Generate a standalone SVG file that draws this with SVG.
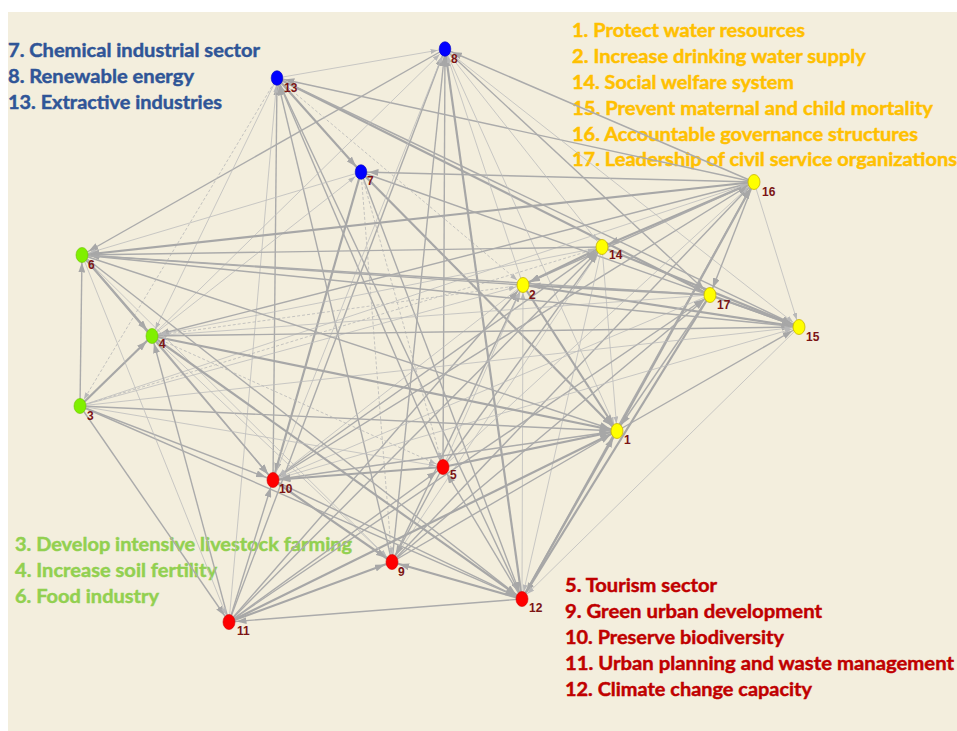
<svg xmlns="http://www.w3.org/2000/svg" width="957" height="731" viewBox="0 0 957 731">
  <style>
    .bg{fill:#f3eedd}
    .lg{font-family:Lato,"Open Sans","Liberation Sans",sans-serif;font-weight:700;font-size:19px;stroke-width:0.45px}
    .blue{fill:#2f5597;stroke:#2f5597}
    .yel{fill:#ffc000;stroke:#ffc000}
    .grn{fill:#92d050;stroke:#92d050}
    .red{fill:#c00000;stroke:#c00000}
    .e1{stroke:#a7a7a7;stroke-width:2.2;fill:none;marker-end:url(#mA)}
    .e2{stroke:#ababab;stroke-width:1.4;fill:none;marker-end:url(#mA)}
    .e3{stroke:#bcbcbc;stroke-width:0.8;fill:none;marker-end:url(#mB)}
    .e4{stroke:#b8b8b8;stroke-width:0.8;stroke-dasharray:3 2;fill:none;marker-end:url(#mB)}
    .nl{font-family:"Liberation Sans",Arial,sans-serif;font-weight:700;font-size:12px;fill:#7b1414}
    .nb{fill:#0000ff;stroke:#0000c0;stroke-width:0.6}
    .ny{fill:#ffff00;stroke:#c8b400;stroke-width:0.8}
    .ng{fill:#80f000;stroke:#6cc000;stroke-width:0.6}
    .nr{fill:#ff0000;stroke:#d00000;stroke-width:0.6}
  </style>
  <defs>
    <marker id="mA" viewBox="0 0 10 7" markerWidth="10" markerHeight="7" refX="17.5" refY="3.5" orient="auto" markerUnits="userSpaceOnUse">
      <path d="M0,0 L10,3.5 L0,7 z" fill="#a7a7a7"/>
    </marker>
    <marker id="mB" viewBox="0 0 7 5" markerWidth="7" markerHeight="5" refX="14.5" refY="2.5" orient="auto" markerUnits="userSpaceOnUse">
      <path d="M0,0 L7,2.5 L0,5 z" fill="#b8b8b8"/>
    </marker>
  </defs>

  <rect x="0" y="0" width="957" height="731" fill="#ffffff"/>
  <rect class="bg" x="8" y="12" width="949" height="719"/>

  <!-- legend -->
  <g id="legend-blue" class="lg blue">
    <text x="8" y="57" textLength="252" lengthAdjust="spacingAndGlyphs">7. Chemical industrial sector</text>
    <text x="8" y="83" textLength="186" lengthAdjust="spacingAndGlyphs">8. Renewable energy</text>
    <text x="8" y="109" textLength="214" lengthAdjust="spacingAndGlyphs">13. Extractive industries</text>
  </g>
  <g id="legend-yellow" class="lg yel">
    <text x="572" y="37" textLength="233" lengthAdjust="spacingAndGlyphs">1. Protect water resources</text>
    <text x="572" y="63" textLength="294" lengthAdjust="spacingAndGlyphs">2. Increase drinking water supply</text>
    <text x="572" y="89" textLength="222" lengthAdjust="spacingAndGlyphs">14. Social welfare system</text>
    <text x="572" y="115" textLength="361" lengthAdjust="spacingAndGlyphs">15. Prevent maternal and child mortality</text>
    <text x="572" y="141" textLength="346" lengthAdjust="spacingAndGlyphs">16. Accountable governance structures</text>
    <text x="572" y="166" textLength="385" lengthAdjust="spacingAndGlyphs">17. Leadership of civil service organizations</text>
  </g>
  <g id="legend-green" class="lg grn">
    <text x="15" y="551" textLength="337" lengthAdjust="spacingAndGlyphs">3. Develop intensive livestock farming</text>
    <text x="15" y="577" textLength="202" lengthAdjust="spacingAndGlyphs">4. Increase soil fertility</text>
    <text x="15" y="603" textLength="144" lengthAdjust="spacingAndGlyphs">6. Food industry</text>
  </g>
  <g id="legend-red" class="lg red">
    <text x="565" y="592" textLength="152" lengthAdjust="spacingAndGlyphs">5. Tourism sector</text>
    <text x="565" y="618" textLength="257" lengthAdjust="spacingAndGlyphs">9. Green urban development</text>
    <text x="565" y="644" textLength="219" lengthAdjust="spacingAndGlyphs">10. Preserve biodiversity</text>
    <text x="565" y="670" textLength="389" lengthAdjust="spacingAndGlyphs">11. Urban planning and waste management</text>
    <text x="565" y="696" textLength="247" lengthAdjust="spacingAndGlyphs">12. Climate change capacity</text>
  </g>

  <!-- directed links -->
  <g id="connectors">
    <line class="e3" x1="277" y1="78" x2="445" y2="49"/>
    <line class="e2" x1="754" y1="182" x2="445" y2="49"/>
    <line class="e2" x1="445" y1="49" x2="82" y2="255"/>
    <line class="e1" x1="277" y1="78" x2="361" y2="172"/>
    <line class="e2" x1="754" y1="182" x2="277" y2="78"/>
    <line class="e1" x1="277" y1="78" x2="710" y2="295"/>
    <line class="e2" x1="277" y1="78" x2="799" y2="327"/>
    <line class="e2" x1="273" y1="480" x2="277" y2="78"/>
    <line class="e3" x1="229" y1="622" x2="277" y2="78"/>
    <line class="e2" x1="392" y1="562" x2="277" y2="78"/>
    <line class="e2" x1="443" y1="467" x2="277" y2="78"/>
    <line class="e2" x1="277" y1="78" x2="522" y2="599"/>
    <line class="e4" x1="277" y1="78" x2="80" y2="406"/>
    <line class="e4" x1="277" y1="78" x2="523" y2="285"/>
    <line class="e3" x1="277" y1="78" x2="152" y2="336"/>
    <line class="e2" x1="754" y1="182" x2="361" y2="172"/>
    <line class="e1" x1="361" y1="172" x2="617" y2="431"/>
    <line class="e2" x1="361" y1="172" x2="522" y2="599"/>
    <line class="e2" x1="361" y1="172" x2="799" y2="327"/>
    <line class="e1" x1="361" y1="172" x2="273" y2="480"/>
    <line class="e4" x1="361" y1="172" x2="392" y2="562"/>
    <line class="e4" x1="361" y1="172" x2="443" y2="467"/>
    <line class="e3" x1="361" y1="172" x2="82" y2="255"/>
    <line class="e3" x1="152" y1="336" x2="361" y2="172"/>
    <line class="e2" x1="229" y1="622" x2="445" y2="49"/>
    <line class="e3" x1="273" y1="480" x2="445" y2="49"/>
    <line class="e2" x1="392" y1="562" x2="445" y2="49"/>
    <line class="e2" x1="443" y1="467" x2="445" y2="49"/>
    <line class="e1" x1="522" y1="599" x2="445" y2="49"/>
    <line class="e3" x1="445" y1="49" x2="602" y2="247"/>
    <line class="e3" x1="445" y1="49" x2="617" y2="431"/>
    <line class="e2" x1="445" y1="49" x2="710" y2="295"/>
    <line class="e3" x1="445" y1="49" x2="799" y2="327"/>
    <line class="e3" x1="152" y1="336" x2="445" y2="49"/>
    <line class="e3" x1="523" y1="285" x2="445" y2="49"/>
    <line class="e1" x1="754" y1="182" x2="82" y2="255"/>
    <line class="e2" x1="754" y1="182" x2="152" y2="336"/>
    <line class="e1" x1="754" y1="182" x2="602" y2="247"/>
    <line class="e2" x1="754" y1="182" x2="523" y2="285"/>
    <line class="e3" x1="754" y1="182" x2="799" y2="327"/>
    <line class="e2" x1="754" y1="182" x2="710" y2="295"/>
    <line class="e1" x1="617" y1="431" x2="754" y2="182"/>
    <line class="e2" x1="522" y1="599" x2="754" y2="182"/>
    <line class="e2" x1="392" y1="562" x2="754" y2="182"/>
    <line class="e3" x1="443" y1="467" x2="754" y2="182"/>
    <line class="e2" x1="273" y1="480" x2="754" y2="182"/>
    <line class="e3" x1="80" y1="406" x2="754" y2="182"/>
    <line class="e2" x1="602" y1="247" x2="82" y2="255"/>
    <line class="e3" x1="602" y1="247" x2="152" y2="336"/>
    <line class="e1" x1="602" y1="247" x2="523" y2="285"/>
    <line class="e1" x1="602" y1="247" x2="799" y2="327"/>
    <line class="e3" x1="602" y1="247" x2="617" y2="431"/>
    <line class="e2" x1="273" y1="480" x2="602" y2="247"/>
    <line class="e3" x1="392" y1="562" x2="602" y2="247"/>
    <line class="e2" x1="229" y1="622" x2="602" y2="247"/>
    <line class="e3" x1="602" y1="247" x2="522" y2="599"/>
    <line class="e2" x1="443" y1="467" x2="602" y2="247"/>
    <line class="e4" x1="80" y1="406" x2="602" y2="247"/>
    <line class="e2" x1="523" y1="285" x2="82" y2="255"/>
    <line class="e4" x1="523" y1="285" x2="152" y2="336"/>
    <line class="e1" x1="523" y1="285" x2="617" y2="431"/>
    <line class="e1" x1="523" y1="285" x2="799" y2="327"/>
    <line class="e1" x1="710" y1="295" x2="523" y2="285"/>
    <line class="e2" x1="392" y1="562" x2="523" y2="285"/>
    <line class="e2" x1="229" y1="622" x2="523" y2="285"/>
    <line class="e3" x1="523" y1="285" x2="273" y2="480"/>
    <line class="e3" x1="443" y1="467" x2="523" y2="285"/>
    <line class="e3" x1="522" y1="599" x2="523" y2="285"/>
    <line class="e3" x1="80" y1="406" x2="523" y2="285"/>
    <line class="e2" x1="710" y1="295" x2="82" y2="255"/>
    <line class="e1" x1="710" y1="295" x2="799" y2="327"/>
    <line class="e2" x1="710" y1="295" x2="617" y2="431"/>
    <line class="e2" x1="229" y1="622" x2="710" y2="295"/>
    <line class="e2" x1="392" y1="562" x2="710" y2="295"/>
    <line class="e3" x1="710" y1="295" x2="273" y2="480"/>
    <line class="e3" x1="710" y1="295" x2="152" y2="336"/>
    <line class="e1" x1="710" y1="295" x2="522" y2="599"/>
    <line class="e2" x1="82" y1="255" x2="799" y2="327"/>
    <line class="e2" x1="152" y1="336" x2="799" y2="327"/>
    <line class="e3" x1="80" y1="406" x2="799" y2="327"/>
    <line class="e2" x1="617" y1="431" x2="799" y2="327"/>
    <line class="e3" x1="799" y1="327" x2="522" y2="599"/>
    <line class="e3" x1="273" y1="480" x2="799" y2="327"/>
    <line class="e2" x1="82" y1="255" x2="617" y2="431"/>
    <line class="e1" x1="152" y1="336" x2="617" y2="431"/>
    <line class="e2" x1="80" y1="406" x2="617" y2="431"/>
    <line class="e2" x1="617" y1="431" x2="273" y2="480"/>
    <line class="e1" x1="443" y1="467" x2="617" y2="431"/>
    <line class="e2" x1="392" y1="562" x2="617" y2="431"/>
    <line class="e1" x1="229" y1="622" x2="617" y2="431"/>
    <line class="e1" x1="522" y1="599" x2="617" y2="431"/>
    <line class="e2" x1="80" y1="406" x2="82" y2="255"/>
    <line class="e1" x1="82" y1="255" x2="152" y2="336"/>
    <line class="e1" x1="80" y1="406" x2="152" y2="336"/>
    <line class="e2" x1="82" y1="255" x2="273" y2="480"/>
    <line class="e2" x1="82" y1="255" x2="522" y2="599"/>
    <line class="e3" x1="82" y1="255" x2="392" y2="562"/>
    <line class="e2" x1="152" y1="336" x2="273" y2="480"/>
    <line class="e1" x1="152" y1="336" x2="522" y2="599"/>
    <line class="e3" x1="152" y1="336" x2="392" y2="562"/>
    <line class="e4" x1="152" y1="336" x2="443" y2="467"/>
    <line class="e2" x1="80" y1="406" x2="273" y2="480"/>
    <line class="e2" x1="80" y1="406" x2="522" y2="599"/>
    <line class="e2" x1="80" y1="406" x2="229" y2="622"/>
    <line class="e3" x1="80" y1="406" x2="443" y2="467"/>
    <line class="e2" x1="229" y1="622" x2="152" y2="336"/>
    <line class="e3" x1="82" y1="255" x2="229" y2="622"/>
    <line class="e1" x1="443" y1="467" x2="273" y2="480"/>
    <line class="e1" x1="273" y1="480" x2="392" y2="562"/>
    <line class="e2" x1="273" y1="480" x2="522" y2="599"/>
    <line class="e2" x1="229" y1="622" x2="273" y2="480"/>
    <line class="e1" x1="229" y1="622" x2="392" y2="562"/>
    <line class="e2" x1="522" y1="599" x2="229" y2="622"/>
    <line class="e1" x1="522" y1="599" x2="392" y2="562"/>
    <line class="e2" x1="443" y1="467" x2="392" y2="562"/>
    <line class="e2" x1="522" y1="599" x2="443" y2="467"/>
    <line class="e2" x1="229" y1="622" x2="443" y2="467"/>
  </g>

  <!-- nodes -->
  <g id="n8"><ellipse class="nb" cx="445" cy="49" rx="5.8" ry="7.3"/><text class="nl" x="451" y="63">8</text></g>
  <g id="n13"><ellipse class="nb" cx="277" cy="78" rx="5.8" ry="7.3"/><text class="nl" x="284" y="92">13</text></g>
  <g id="n7"><ellipse class="nb" cx="361" cy="172" rx="5.8" ry="7.3"/><text class="nl" x="367" y="185">7</text></g>
  <g id="n16"><ellipse class="ny" cx="754" cy="182" rx="6" ry="7.5"/><text class="nl" x="762" y="196">16</text></g>
  <g id="n14"><ellipse class="ny" cx="602" cy="247" rx="6" ry="7.5"/><text class="nl" x="609" y="259">14</text></g>
  <g id="n2"><ellipse class="ny" cx="523" cy="285" rx="6" ry="7.5"/><text class="nl" x="529" y="299">2</text></g>
  <g id="n17"><ellipse class="ny" cx="710" cy="295" rx="6" ry="7.5"/><text class="nl" x="717" y="309">17</text></g>
  <g id="n15"><ellipse class="ny" cx="799" cy="327" rx="6" ry="7.5"/><text class="nl" x="806" y="341">15</text></g>
  <g id="n1"><ellipse class="ny" cx="617" cy="431" rx="6" ry="7.5"/><text class="nl" x="624" y="444">1</text></g>
  <g id="n6"><ellipse class="ng" cx="82" cy="255" rx="6" ry="7.5"/><text class="nl" x="88" y="269">6</text></g>
  <g id="n4"><ellipse class="ng" cx="152" cy="336" rx="6" ry="7.5"/><text class="nl" x="159" y="348">4</text></g>
  <g id="n3"><ellipse class="ng" cx="80" cy="406" rx="6" ry="7.5"/><text class="nl" x="87" y="420">3</text></g>
  <g id="n10"><ellipse class="nr" cx="273" cy="480" rx="6" ry="7.5"/><text class="nl" x="279" y="493">10</text></g>
  <g id="n5"><ellipse class="nr" cx="443" cy="467" rx="6" ry="7.5"/><text class="nl" x="450" y="479">5</text></g>
  <g id="n9"><ellipse class="nr" cx="392" cy="562" rx="6" ry="7.5"/><text class="nl" x="398" y="576">9</text></g>
  <g id="n11"><ellipse class="nr" cx="229" cy="622" rx="6" ry="7.5"/><text class="nl" x="237" y="635">11</text></g>
  <g id="n12"><ellipse class="nr" cx="522" cy="599" rx="6" ry="7.5"/><text class="nl" x="529" y="612" font-weight="400" fill="#3a2020">12</text></g>
</svg>
